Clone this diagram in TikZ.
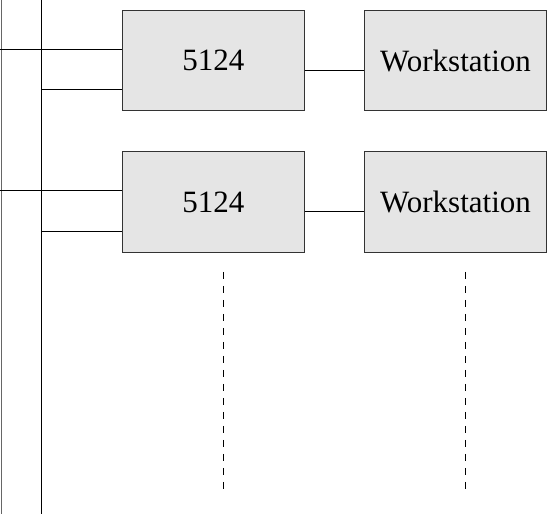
\documentclass[tikz,border=0pt]{standalone}
\usepackage{fontspec}
\setmainfont{Liberation Serif}
\begin{document}
\begin{tikzpicture}[x=1pt,y=-1pt,
  wire/.style={draw=black, line width=1pt},
  unitbox/.style={draw=black!80, fill=black!10, line width=1pt, inner sep=0pt,
    font=\fontsize{31}{31}\selectfont, anchor=north west},
  dots/.style={draw=black, line width=1pt, dash pattern=on 7pt off 7pt}]
\useasboundingbox (0,0) rectangle (547,518);

% controller units and their workstations
\node[unitbox, minimum width=181.5pt, minimum height=100pt] (c1) at (122,10) {5124};
\node[unitbox, minimum width=182pt, minimum height=100pt] (w1) at (364,10) {Workstation};
\node[unitbox, minimum width=181.5pt, minimum height=101pt] (c2) at (122,151) {5124};
\node[unitbox, minimum width=182pt, minimum height=101pt] (w2) at (364,151) {Workstation};

% two vertical buses
\coordinate (busAtop) at (1,0);
\coordinate (busAbot) at (1,514);
\coordinate (busBtop) at (41,0);
\coordinate (busBbot) at (41,514);
\draw[wire, draw=black!60] (busAtop) -- (busAbot);
\draw[wire] (busBtop) -- (busBbot);

% taps from the buses into each unit
\coordinate (a1) at (0,50);
\coordinate (b1) at (41,90);
\coordinate (a2) at (0,191);
\coordinate (b2) at (41,232);
\draw[wire] (a1) -- (c1.west |- a1);
\draw[wire] (b1) -- (c1.west |- b1);
\draw[wire] (a2) -- (c2.west |- a2);
\draw[wire] (b2) -- (c2.west |- b2);

% unit to workstation links
\draw[wire] ([yshift=-10pt]c1.east) -- ([yshift=-10pt]w1.west);
\draw[wire] ([yshift=-9.5pt]c2.east) -- ([yshift=-9.5pt]w2.west);

% continuation marks
\coordinate (d1top) at (223,272);
\coordinate (d1bot) at (223,493);
\coordinate (d2top) at (465,272);
\coordinate (d2bot) at (465,493);
\draw[dots] (d1top) -- (d1bot);
\draw[dots] (d2top) -- (d2bot);
\end{tikzpicture}
\end{document}
